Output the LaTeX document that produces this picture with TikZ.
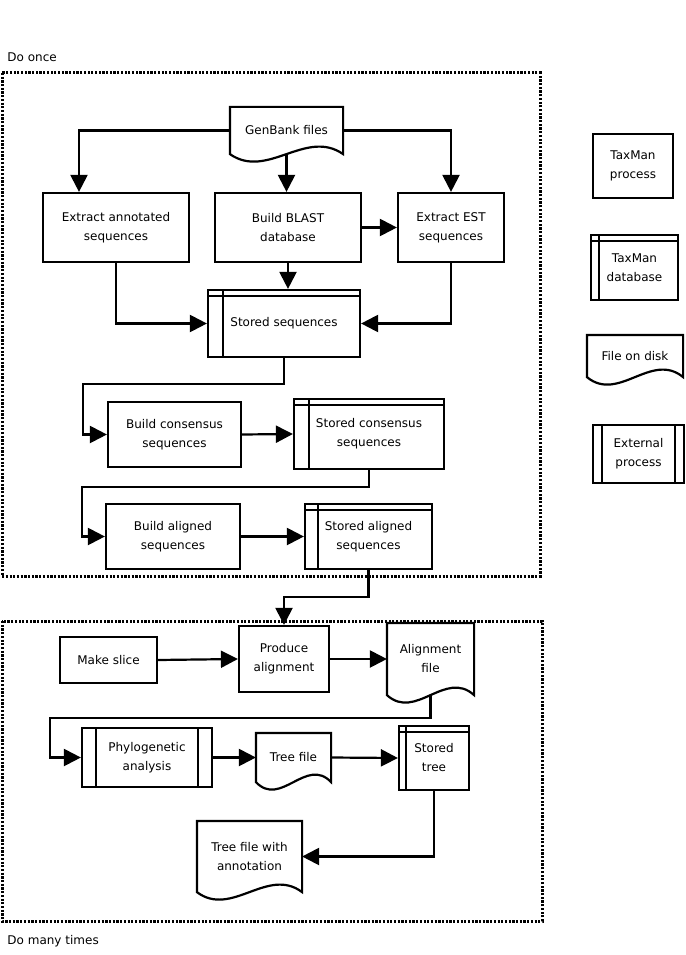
\documentclass[tikz,border=0pt]{standalone}
\usepackage{fontspec}
\setmainfont{DejaVu Sans}
\usetikzlibrary{arrows.meta,calc}

\begin{document}
\begin{tikzpicture}[x=1pt,y=-1pt,line width=2.2pt,
  font=\fontsize{12}{19}\selectfont,
  flow/.style={-{Triangle[length=17pt,width=17pt]}},
  frame/.style={line width=3pt,dash pattern=on 2.2pt off 1.5pt},
  box/.style 2 args={draw,align=center,inner sep=0pt,minimum width=#1,minimum height=#2},
  db/.style n args={3}{box={#1}{#2},path picture={
    \draw ([yshift=-6pt]path picture bounding box.north west) -- ([yshift=-6pt]path picture bounding box.north east)
          ([xshift=#3]path picture bounding box.north west) -- ([xshift=#3]path picture bounding box.south west);}},
  ext/.style n args={3}{box={#1}{#2},path picture={
    \draw ([xshift=#3]path picture bounding box.north west) -- ([xshift=#3]path picture bounding box.south west)
          ([xshift=-#3]path picture bounding box.north east) -- ([xshift=-#3]path picture bounding box.south east);}},
  doc/.style 2 args={align=center,inner sep=0pt,minimum width=#1,minimum height=#2,
    append after command={\pgfextra{
      \draw (\tikzlastnode.south west) -- (\tikzlastnode.north west) -- (\tikzlastnode.north east) -- (\tikzlastnode.south east)
        .. controls ($(\tikzlastnode.south east)!.33!(\tikzlastnode.south west)+(0pt,26pt)$)
        and ($(\tikzlastnode.south west)!.33!(\tikzlastnode.south east)+(0pt,-26pt)$) .. (\tikzlastnode.south west) -- cycle;}}}
]
\useasboundingbox (0,0) rectangle (685,955);

% Do once
\draw[frame] (2,73) rectangle (540,576);
\node[anchor=west] (once) at (3,57) {Do once};

\node[doc={111pt}{45pt}] (gb) at (286.5,130.5) {GenBank files};
\node[box={146pt}{69pt}] (ea) at (116,227.5) {Extract annotated\\sequences};
\node[box={146pt}{69pt}] (bb) at (288,227.5) {Build BLAST\\database};
\node[box={106pt}{69pt}] (ee) at (451,227.5) {Extract EST\\sequences};
\node[db={152pt}{67pt}{15pt}] (ss) at (284,323.5) {Stored sequences};
\node[box={133pt}{65pt}] (bc) at (174.5,434.5) {Build consensus\\sequences};
\node[db={150pt}{70pt}{15pt}] (sc) at (369,434) {Stored consensus\\sequences};
\node[box={134pt}{65pt}] (ba) at (173,536.5) {Build aligned\\sequences};
\node[db={127pt}{65pt}{13pt}] (sa) at (368.5,536.5) {Stored aligned\\sequences};

\draw[flow] (gb.west) -| ([xshift=-37pt]ea.north);
\draw[flow] (gb.south) -- (gb.south |- bb.north);
\draw[flow] (gb.east) -| (ee.north);
\draw[flow] (bb.east) -- (ee.west);
\draw[flow] (bb.south) -- (bb.south |- ss.north);
\draw[flow] (ea.south) |- (ss.west);
\draw[flow] (ee.south) |- (ss.east);
\draw[flow] (ss.south) -- ++(0,26) -| ([xshift=-24pt]bc.west) -- (bc.west);
\draw[flow] (bc.east) -- (sc.west);
\draw[flow] (sc.south) -- ++(0,17) -| ([xshift=-23pt]ba.west) -- (ba.west);
\draw[flow] (ba.east) -- (sa.west);

% Do many times
\draw[frame] (2,621) rectangle (542,921);
\node[anchor=west] (many) at (3,941) {Do many times};

\node[box={97pt}{46pt}] (ms) at (108.5,660) {Make slice};
\node[box={90pt}{66pt}] (pa) at (284,659) {Produce\\alignment};
\node[doc={85pt}{70pt}] (af) at (430.5,659) {Alignment\\file};
\node[ext={130pt}{59pt}{14pt}] (ph) at (147,757.5) {Phylogenetic\\analysis};
\node[doc={73pt}{47pt}] (tf) at (293.5,757.5) {Tree file};
\node[db={70pt}{64pt}{7pt}] (st) at (434,758) {Stored\\tree};
\node[doc={103pt}{69pt}] (ta) at (249.5,856.5) {Tree file with\\annotation};

\draw[flow] (sa.south) -- ++(0,27) -| (pa.north);
\draw[flow] (ms.east) -- (pa.west);
\draw[flow] (pa.east) -- (af.west);
\draw[flow] (af.south) -- ++(0,23) -| ([xshift=-31pt]ph.west) -- (ph.west);
\draw[flow] (ph.east) -- (tf.west);
\draw[flow] (tf.east) -- (st.west);
\draw[flow] (st.south) |- (ta.east);

% legenda
\node[box={80pt}{64pt}] (lp) at (633,166) {TaxMan\\process};
\node[db={87pt}{65pt}{8pt}] (ld) at (634.5,267.5) {TaxMan\\database};
\node[doc={94pt}{40pt}] (lf) at (635,356) {File on disk};
\node[ext={91pt}{58pt}{9pt}] (le) at (638.5,454) {External\\process};
\end{tikzpicture}
\end{document}
